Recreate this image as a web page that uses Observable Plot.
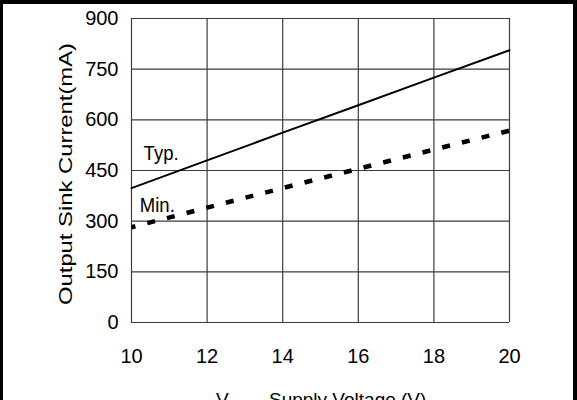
<!DOCTYPE html>
<html><head><meta charset="utf-8">
<script src="https://cdn.jsdelivr.net/npm/d3@7"></script>
<script src="https://cdn.jsdelivr.net/npm/@observablehq/plot@0.6"></script>
<style>
body{margin:0;background:#fff;}
#wrap{position:relative;width:577px;height:400px;overflow:hidden;background:#fff;}
#frame{position:absolute;left:0;top:0;width:577px;height:400px;box-sizing:border-box;border-top:4px solid #000;border-left:3px solid #000;border-right:4px solid #000;pointer-events:none;}
</style></head><body>
<div id="wrap"><div id="chart"></div><div id="frame"></div></div>
<script>
// ---- data ----
const xTicks = [10, 12, 14, 16, 18, 20];
const yTicks = [0, 150, 300, 450, 600, 750, 900];
const voltage = [10, 12, 14, 16, 18, 20];
const typCurrent = [398, 480, 562, 643, 725, 806];
const minCurrent = [282, 340, 398, 455, 512, 568];
const seriesLabels = ["Typ.", "Min."];
const labelX = [10.32, 10.22];
const labelY = [480, 327];
const yTitle = "Output Sink Current(mA)";
const xTitleSymbol = "V";
const xTitleSub = "CC";
const xTitleText = "Supply Voltage (V)";

const typData = voltage.map((v, i) => ({v, c: typCurrent[i]}));
const minData = voltage.map((v, i) => ({v, c: minCurrent[i]}));
const labelData = seriesLabels.map((t, i) => ({t, x: labelX[i], y: labelY[i]}));

const chart = Plot.plot({
  width: 577,
  height: 400,
  marginLeft: 131,
  marginRight: 68,
  marginTop: 18,
  marginBottom: 78,
  style: {fontFamily: "'Liberation Sans', Arial, sans-serif", fontSize: "20px", background: "#fff", color: "#000"},
  x: {domain: [10, 20]},
  y: {domain: [0, 900]},
  marks: [
    Plot.ruleX(xTicks, {stroke: "#3c3c3c", strokeWidth: 1.2}),
    Plot.ruleY(yTicks, {stroke: "#3c3c3c", strokeWidth: 1.2}),
    Plot.axisX({ticks: xTicks, tickSize: 0, tickPadding: 26, label: null, fontSize: 20}),
    Plot.axisY({ticks: yTicks, tickSize: 0, tickPadding: 13, label: null, fontSize: 20}),
    Plot.line(typData, {x: "v", y: "c", stroke: "#000", strokeWidth: 2}),
    Plot.line(minData, {x: "v", y: "c", stroke: "#000", strokeWidth: 4.5, strokeDasharray: "8,12.3", strokeDashoffset: 4, strokeLinecap: "butt"}),
    Plot.text(labelData, {x: "x", y: "y", text: "t", textAnchor: "start", lineAnchor: "bottom", fontSize: 21, fill: "#000"})
  ]
});
document.getElementById("chart").appendChild(chart);

const svg = d3.select(chart);
svg.selectAll("text").filter(function(){ return this.textContent === "Typ."; })
  .attr("textLength", 35).attr("lengthAdjust", "spacingAndGlyphs");
svg.selectAll("text").filter(function(){ return this.textContent === "Min."; })
  .attr("textLength", 35).attr("lengthAdjust", "spacingAndGlyphs");

svg.append("text")
  .attr("transform", "translate(72,174) rotate(-90)")
  .attr("text-anchor", "middle")
  .attr("font-size", 19)
  .attr("fill", "#000")
  .attr("textLength", 262)
  .attr("lengthAdjust", "spacingAndGlyphs")
  .text(yTitle);

const xt = svg.append("text")
  .attr("x", 216).attr("y", 405.6)
  .attr("text-anchor", "start")
  .attr("font-size", 19).attr("fill", "#000");
xt.append("tspan").text(xTitleSymbol);
xt.append("tspan").attr("font-size", 13).attr("dy", 5).text(xTitleSub);

svg.append("text")
  .attr("x", 269).attr("y", 405.6)
  .attr("text-anchor", "start")
  .attr("font-size", 19).attr("fill", "#000")
  .text(xTitleText);
</script>
</body></html>
